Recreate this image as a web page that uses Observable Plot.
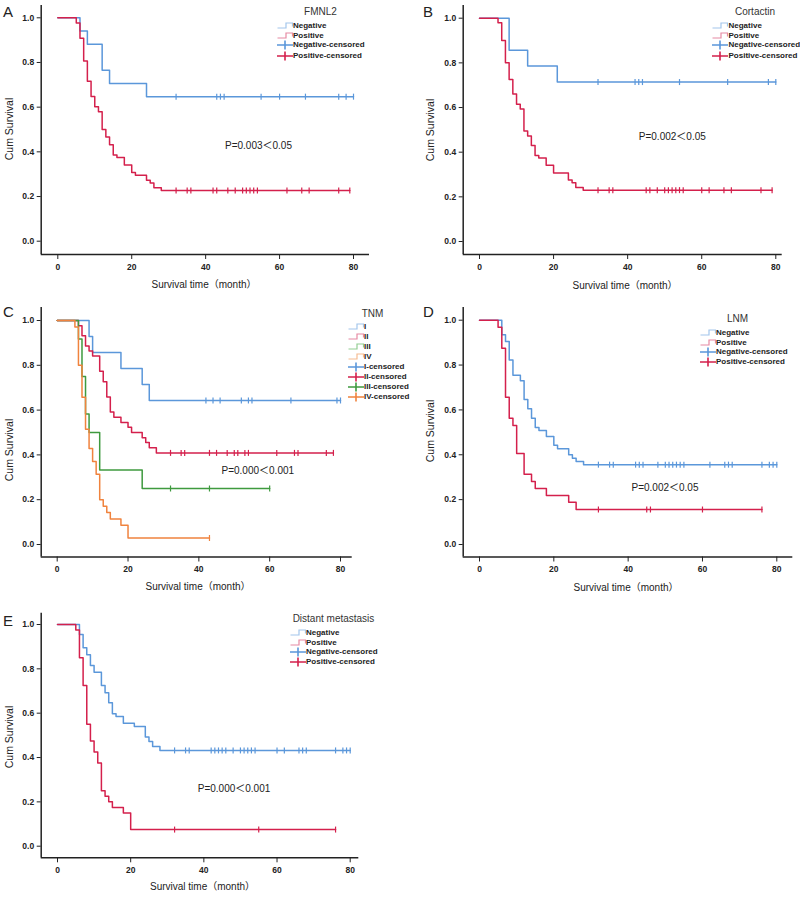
<!DOCTYPE html>
<html>
<head>
<meta charset="utf-8">
<script src="https://cdn.jsdelivr.net/npm/d3@7"></script>
<script src="https://cdn.jsdelivr.net/npm/@observablehq/plot@0.6"></script>
<style>
  html, body { margin: 0; padding: 0; background: #fff; }
  #fig { position: relative; width: 800px; height: 897px; overflow: hidden;
         font-family: "Liberation Sans", Arial, "Noto Sans CJK SC", sans-serif; color: #222; }
  #fig svg.plotsvg { position: absolute; overflow: visible; }
  .ov { position: absolute; white-space: nowrap; line-height: 1; }
  .c { transform: translate(-50%, -50%); }
  .lg { transform: translateY(-50%); font-weight: bold; font-size: 8px; }
  .sym { position: absolute; }
</style>
</head>
<body>
<div id="fig"></div>
<script>
// ---------------- DATA ----------------
const xTicks = [0, 20, 40, 60, 80];
const yTicks = [0, 0.2, 0.4, 0.6, 0.8, 1.0];

// Panel A: FMNL2
const A_neg_t = [0, 6, 8, 12, 14, 24];
const A_neg_s = [1, 0.941, 0.882, 0.765, 0.706, 0.647];
const A_neg_c = [32, 43, 44, 45, 55, 60, 67, 76, 78, 80];
const A_pos_t = [0, 5, 6, 7, 8, 9, 10, 11, 12, 13, 14, 15, 16, 18, 20, 21, 24, 25, 26, 28];
const A_pos_s = [1, 0.977, 0.909, 0.807, 0.716, 0.648, 0.602, 0.58, 0.5, 0.466, 0.432, 0.386, 0.375, 0.341, 0.307, 0.295, 0.273, 0.261, 0.239, 0.227];
const A_pos_c = [32, 35, 36, 42, 43, 46, 48, 50, 51, 52, 53, 54, 62, 66, 68, 76, 79];

// Panel B: Cortactin
const B_neg_t = [0, 8, 13, 21];
const B_neg_s = [1, 0.857, 0.786, 0.714];
const B_neg_c = [32, 42, 43, 44, 54, 67, 78, 80];
const B_pos_t = [0, 5, 6, 7, 8, 9, 10, 11, 12, 13, 14, 15, 16, 18, 20, 24, 25, 26, 28];
const B_pos_s = [1, 0.98, 0.9, 0.8, 0.725, 0.66, 0.615, 0.593, 0.495, 0.473, 0.43, 0.385, 0.374, 0.341, 0.307, 0.275, 0.263, 0.242, 0.23];
const B_pos_c = [32, 35, 36, 45, 46, 48, 50, 51, 52, 53, 54, 55, 60, 62, 66, 68, 76, 79];

// Panel C: TNM
const C_I_t = [0, 9, 10, 18, 24, 26];
const C_I_s = [1, 0.929, 0.857, 0.786, 0.714, 0.643];
const C_I_c = [42, 44, 46, 52, 54, 55, 66, 79, 80];
const C_II_t = [0, 6, 7, 8, 9, 10, 12, 13, 14, 15, 16, 18, 20, 21, 24, 25, 26, 28];
const C_II_s = [1, 0.977, 0.932, 0.886, 0.864, 0.841, 0.773, 0.727, 0.659, 0.591, 0.568, 0.545, 0.523, 0.5, 0.477, 0.455, 0.432, 0.409];
const C_II_c = [32, 35, 36, 43, 45, 48, 50, 51, 53, 54, 62, 67, 68, 76, 78];
const C_III_t = [0, 6, 7, 8, 9, 12, 24];
const C_III_s = [1, 0.917, 0.75, 0.583, 0.5, 0.333, 0.25];
const C_III_c = [32, 43, 60];
const C_IV_t = [0, 5, 6, 7, 8, 9, 10, 11, 12, 13, 14, 15, 18, 20];
const C_IV_s = [1, 0.971, 0.8, 0.657, 0.514, 0.429, 0.371, 0.314, 0.2, 0.171, 0.143, 0.114, 0.086, 0.029];
const C_IV_c = [43];

// Panel D: LNM
const D_neg_t = [0, 6, 7, 8, 9, 11, 12, 13, 14, 15, 16, 18, 20, 21, 24, 25, 26, 28];
const D_neg_s = [1, 0.935, 0.905, 0.823, 0.755, 0.73, 0.647, 0.605, 0.563, 0.522, 0.508, 0.481, 0.442, 0.427, 0.4, 0.385, 0.37, 0.356];
const D_neg_c = [32, 35, 36, 42, 43, 44, 48, 50, 51, 52, 53, 54, 55, 62, 66, 67, 68, 76, 78, 79, 80];
const D_pos_t = [0, 5, 6, 7, 8, 9, 10, 12, 14, 15, 18, 24, 26];
const D_pos_s = [1, 0.969, 0.875, 0.656, 0.563, 0.531, 0.406, 0.313, 0.281, 0.25, 0.219, 0.188, 0.156];
const D_pos_c = [32, 45, 46, 60, 76];

// Panel E: Distant metastasis
const E_neg_t = [0, 6, 7, 8, 9, 10, 12, 13, 14, 15, 16, 18, 21, 24, 25, 26, 28];
const E_neg_s = [1, 0.955, 0.895, 0.863, 0.815, 0.785, 0.725, 0.692, 0.647, 0.597, 0.585, 0.555, 0.54, 0.492, 0.472, 0.45, 0.432];
const E_neg_c = [32, 35, 36, 42, 43, 44, 45, 46, 48, 50, 51, 52, 53, 54, 60, 62, 66, 67, 68, 76, 78, 79, 80];
const E_pos_t = [0, 5, 6, 7, 8, 9, 10, 11, 12, 13, 14, 15, 18, 20];
const E_pos_s = [1, 0.975, 0.85, 0.725, 0.55, 0.475, 0.425, 0.375, 0.25, 0.225, 0.2, 0.175, 0.15, 0.075];
const E_pos_c = [32, 55, 76];

// Texts
const letters = ["A", "B", "C", "D", "E"];
const legendTitles = ["FMNL2", "Cortactin", "TNM", "LNM", "Distant metastasis"];
const pTexts = ["P=0.003＜0.05", "P=0.002＜0.05", "P=0.000＜0.001", "P=0.002＜0.05", "P=0.000＜0.001"];
const xTitle = "Survival time（month）";
const yTitle = "Cum Survival";
const twoGroups = ["Negative", "Positive"];
const tnmGroups = ["I", "II", "III", "IV"];

// ---------------- STYLE / LAYOUT ----------------
const col = {blue: "#5b97da", red: "#d4204c", green: "#3f9a3f", orange: "#f0833e"};
const light = {blue: "#a3c6ec", red: "#e68aa3", green: "#93cd93", orange: "#f6bb91"};

const layout = [
  {left: 0,   top: 0,   h: 300, yAxisX: 40.7,  x0: 57.3, x80: 353,   xEnd: 369,   y1: 17.3,  y0: 240.7, xAxisY: 254,   yTop: 5,
   letter: [3, 4], xT: [204, 285], yT: [8.5, 129], P: [258.5, 145.7], lt: [320.5, 11.7], sx: 277, tx: 293, rows: [25.7, 35.7, 45.3, 55.7]},
  {left: 400, top: 0,   h: 300, yAxisX: 462.7, x0: 479,  x80: 775.3, xEnd: 781.7, y1: 17.7,  y0: 241,   xAxisY: 254,   yTop: 5,
   letter: [423, 4], xT: [625, 285.7], yT: [430, 130], P: [672.3, 136.7], lt: [755, 11.7], sx: 712, tx: 728.5, rows: [25.7, 35.7, 45.3, 55.7]},
  {left: 0,   top: 300, h: 300, yAxisX: 40.7,  x0: 56.7, x80: 340,   xEnd: 351.7, y1: 320,   y0: 544,   xAxisY: 556.5, yTop: 307,
   letter: [3, 304], xT: [198, 587.3], yT: [8.5, 450], P: [257.8, 470.7], lt: [372.5, 314], sx: 348, tx: 364, rows: [327.3, 337.3, 347.3, 357.3, 367, 377.3, 387.3, 397.3]},
  {left: 400, top: 300, h: 300, yAxisX: 462.7, x0: 479,  x80: 776.3, xEnd: 792.3, y1: 319.7, y0: 544,   xAxisY: 556.5, yTop: 307,
   letter: [423, 304], xT: [626, 588.3], yT: [430, 431], P: [665, 488.3], lt: [737.5, 319], sx: 700, tx: 716, rows: [333.3, 342.7, 352.3, 362.3]},
  {left: 0,   top: 600, h: 297, yAxisX: 40.7,  x0: 57,   x80: 349.7, xEnd: 358.3, y1: 624,   y0: 845.7, xAxisY: 857.3, yTop: 612.7,
   letter: [3, 613], xT: [202.5, 887.3], yT: [8.5, 736.7], P: [234, 789.3], lt: [333.5, 619], sx: 290, tx: 306, rows: [633.3, 642.7, 652.3, 662.3]}
];

// series per panel
const panels = [
  [{name: "Negative", t: A_neg_t, s: A_neg_s, c: A_neg_c, k: "blue"}, {name: "Positive", t: A_pos_t, s: A_pos_s, c: A_pos_c, k: "red"}],
  [{name: "Negative", t: B_neg_t, s: B_neg_s, c: B_neg_c, k: "blue"}, {name: "Positive", t: B_pos_t, s: B_pos_s, c: B_pos_c, k: "red"}],
  [{name: "I", t: C_I_t, s: C_I_s, c: C_I_c, k: "blue"}, {name: "II", t: C_II_t, s: C_II_s, c: C_II_c, k: "red"},
   {name: "III", t: C_III_t, s: C_III_s, c: C_III_c, k: "green"}, {name: "IV", t: C_IV_t, s: C_IV_s, c: C_IV_c, k: "orange"}],
  [{name: "Negative", t: D_neg_t, s: D_neg_s, c: D_neg_c, k: "blue"}, {name: "Positive", t: D_pos_t, s: D_pos_s, c: D_pos_c, k: "red"}],
  [{name: "Negative", t: E_neg_t, s: E_neg_s, c: E_neg_c, k: "blue"}, {name: "Positive", t: E_pos_t, s: E_pos_s, c: E_pos_c, k: "red"}]
];

// censor tick symbol (vertical bar)
const barSymbol = {
  draw(context, size) {
    const h = Math.sqrt(size / Math.PI);
    context.moveTo(0, -h);
    context.lineTo(0, h);
  }
};

function survAt(t, times, surv) {
  let v = surv[0];
  for (let i = 0; i < times.length; i++) if (times[i] <= t) v = surv[i];
  return v;
}

const fig = document.getElementById("fig");

layout.forEach((g, i) => {
  const k = (g.x80 - g.x0) / 80;
  const ky = g.y0 - g.y1;
  const xDom = [(g.yAxisX - g.x0) / k, (g.xEnd - g.x0) / k];
  const yDom = [(g.y0 - g.xAxisY) / ky, (g.y0 - g.yTop) / ky];
  const W = 400, H = g.h;
  const marks = [];
  for (const sr of panels[i]) {
    const pts = sr.t.map((t, j) => ({t, s: sr.s[j]}));
    const tEnd = d3.max(sr.c);
    if (tEnd > sr.t[sr.t.length - 1]) pts.push({t: tEnd, s: sr.s[sr.s.length - 1]});
    const cens = sr.c.map(t => ({t, s: survAt(t, sr.t, sr.s)}));
    marks.push(Plot.line(pts, {x: "t", y: "s", curve: "step-after", stroke: col[sr.k], strokeWidth: 1.5}));
    marks.push(Plot.dot(cens, {x: "t", y: "s", symbol: barSymbol, r: 3, stroke: col[sr.k], strokeWidth: 1.2, fill: "none"}));
  }
  marks.push(Plot.ruleX([xDom[0]], {stroke: "#222", strokeWidth: 1.5}));
  marks.push(Plot.ruleY([yDom[0]], {stroke: "#222", strokeWidth: 1.5}));
  marks.push(Plot.axisX({ticks: xTicks, tickSize: 5, tickPadding: 4, label: null, tickFormat: d3.format("d")}));
  marks.push(Plot.axisY({ticks: yTicks, tickSize: 4, tickPadding: 3, label: null, tickFormat: d3.format(".1f")}));

  const svg = Plot.plot({
    width: W, height: H,
    marginLeft: g.yAxisX - g.left,
    marginRight: g.left + W - g.xEnd,
    marginTop: g.yTop - g.top,
    marginBottom: g.top + H - g.xAxisY,
    x: {domain: xDom, label: null},
    y: {domain: yDom, label: null},
    style: {background: "none", color: "#222", fontFamily: '"Liberation Sans", Arial, sans-serif', fontSize: "8.5px", fontWeight: "bold", overflow: "visible"},
    marks
  });
  svg.classList.add("plotsvg");
  svg.style.left = g.left + "px";
  svg.style.top = g.top + "px";
  fig.appendChild(svg);
});

// overlays (added after all plots)
function addText(txt, x, y, css, cls) {
  const d = document.createElement("div");
  d.className = "ov " + (cls || "");
  d.textContent = txt;
  d.style.left = x + "px";
  d.style.top = y + "px";
  Object.assign(d.style, css || {});
  fig.appendChild(d);
  return d;
}
function addSym(x, y, color, censored) {
  const ns = "http://www.w3.org/2000/svg";
  const s = document.createElementNS(ns, "svg");
  s.setAttribute("width", 17); s.setAttribute("height", 10);
  s.setAttribute("class", "sym");
  s.style.left = x + "px"; s.style.top = (y - 5) + "px";
  const p = document.createElementNS(ns, "path");
  if (censored) {
    p.setAttribute("d", "M0,5H16M8,0.5V9.5");
    p.setAttribute("stroke-width", "1.6");
  } else {
    p.setAttribute("d", "M0.5,7H9V2H15.5V5.5");
    p.setAttribute("stroke-width", "1.2");
  }
  p.setAttribute("stroke", color);
  p.setAttribute("fill", "none");
  s.appendChild(p);
  fig.appendChild(s);
}

layout.forEach((g, i) => {
  addText(letters[i], g.letter[0], g.letter[1], {fontSize: "15px"});
  addText(xTitle, g.xT[0], g.xT[1], {fontSize: "10px"}, "c");
  const yt = addText(yTitle, g.yT[0], g.yT[1], {fontSize: "10.5px", transform: "translate(-50%,-50%) rotate(-90deg)"});
  addText(pTexts[i], g.P[0], g.P[1], {fontSize: "10px"}, "c");
  addText(legendTitles[i], g.lt[0], g.lt[1], {fontSize: "10px", fontWeight: "500", color: "#333"}, "c");
  const series = panels[i];
  const names = series.map(s => s.name).concat(series.map(s => s.name + "-censored"));
  names.forEach((nm, j) => {
    const sr = series[j % series.length];
    const censored = j >= series.length;
    addSym(g.sx, g.rows[j], censored ? col[sr.k] : light[sr.k], censored);
    addText(nm, g.tx, g.rows[j], {}, "lg");
  });
});
</script>
</body>
</html>
